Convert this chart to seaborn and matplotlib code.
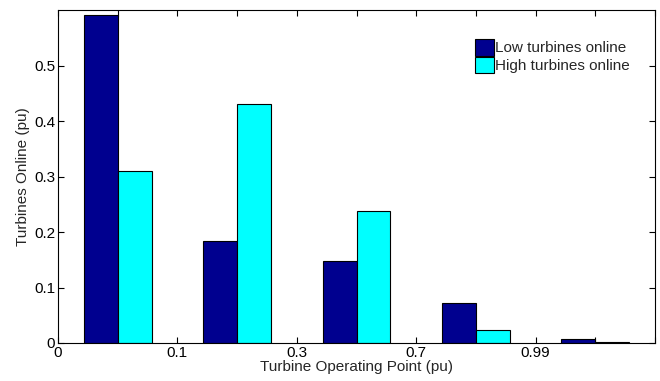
import matplotlib
matplotlib.use("Agg")
import matplotlib.pyplot as plt
import seaborn as sns
import pandas as pd

bins = ["b1", "b2", "b3", "b4", "b5"]
low_online = [0.591, 0.184, 0.148, 0.072, 0.0067]
high_online = [0.310, 0.430, 0.238, 0.023, 0.001]
series_names = ["Low turbines online", "High turbines online"]
edge_labels = ["0", "0.1", "0.3", "0.7", "0.99"]

df = pd.DataFrame({
    "bin": bins * 2,
    "value": low_online + high_online,
    "series": [series_names[0]] * len(bins) + [series_names[1]] * len(bins),
})

sns.set_style("white")
plt.rcParams["font.family"] = ["Liberation Sans", "DejaVu Sans"]
plt.rcParams["font.size"] = 11

fig = plt.figure(figsize=(6.6, 3.81), dpi=100)
ax = fig.add_axes([58 / 660, 1 - 343 / 381, (655 - 58) / 660, (343 - 9.5) / 381])

sns.barplot(data=df, x="bin", y="value", hue="series", order=bins,
            hue_order=series_names, palette=["#00008F", "#00FFFF"],
            width=0.567, gap=0, edgecolor="black", linewidth=0.8,
            saturation=1, ax=ax, errorbar=None)

ax.set_xlim(-0.5, 4.5)
ax.set_ylim(0, 0.601)
ax.set_xticks([-0.5, 0, 0.5, 1, 1.5, 2, 2.5, 3, 3.5, 4, 4.5])
ax.set_xticklabels([edge_labels[0], "", edge_labels[1], "", edge_labels[2], "",
                    edge_labels[3], "", edge_labels[4], "", ""])
ax.set_yticks([0, 0.1, 0.2, 0.3, 0.4, 0.5])
ax.set_yticklabels(["0", "0.1", "0.2", "0.3", "0.4", "0.5"])
ax.tick_params(direction="in", length=4, width=0.8, top=True, right=True,
               bottom=True, left=True, labelsize=11, pad=2, colors="black")
for s in ax.spines.values():
    s.set_visible(True)
    s.set_color("black")
    s.set_linewidth(0.8)

ax.set_xlabel("Turbine Operating Point (pu)", fontsize=11, labelpad=0)
ax.set_ylabel("Turbines Online (pu)", fontsize=11, labelpad=3)

leg = ax.legend(loc="upper right", bbox_to_anchor=(0.958, 0.912), frameon=False,
                fontsize=11, handlelength=1.25, handleheight=1.3,
                handletextpad=0.08, labelspacing=0.08, borderaxespad=0,
                borderpad=0)

fig.savefig("out.png", dpi=100)
